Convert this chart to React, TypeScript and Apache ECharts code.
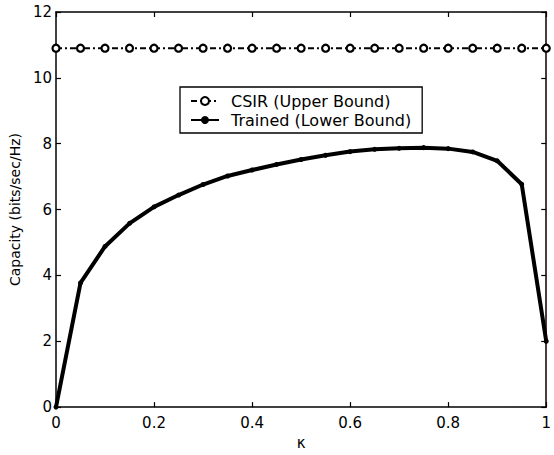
import React, { useEffect, useRef } from "react";
import * as echarts from "echarts";

const kappa = [0, 0.05, 0.1, 0.15, 0.2, 0.25, 0.3, 0.35, 0.4, 0.45, 0.5, 0.55, 0.6, 0.65, 0.7, 0.75, 0.8, 0.85, 0.9, 0.95, 1.0];
const csir = [10.9, 10.9, 10.9, 10.9, 10.9, 10.9, 10.9, 10.9, 10.9, 10.9, 10.9, 10.9, 10.9, 10.9, 10.9, 10.9, 10.9, 10.9, 10.9, 10.9, 10.9];
const trained = [0, 3.77, 4.88, 5.58, 6.08, 6.44, 6.76, 7.02, 7.2, 7.37, 7.52, 7.65, 7.76, 7.83, 7.86, 7.88, 7.85, 7.75, 7.48, 6.77, 2.0];
const xTicks = [0, 0.2, 0.4, 0.6, 0.8, 1];
const yTicks = [0, 2, 4, 6, 8, 10, 12];

const FONT = "DejaVu Sans, Arial, sans-serif";

export default function App() {
  const ref = useRef<HTMLDivElement>(null);
  useEffect(() => {
    const chart = echarts.init(ref.current!, null, { renderer: "svg" });
    const axisLine = { show: true, onZero: false, lineStyle: { color: "#000", width: 1.5 } };
    const tick = { show: true, inside: true, length: 5, lineStyle: { color: "#000", width: 1.2 } };
    chart.setOption({
      animation: false,
      backgroundColor: "#fff",
      textStyle: { fontFamily: FONT },
      grid: { left: 51, right: 2, top: 12, bottom: 40 },
      legend: {
        left: 180,
        top: 87,
        orient: "vertical",
        itemGap: 3,
        itemWidth: 28,
        itemHeight: 10,
        padding: [6, 11, 5, 10],
        borderColor: "#000",
        borderWidth: 1.3,
        backgroundColor: "#fff",
        textStyle: { fontFamily: FONT, fontSize: 16, color: "#000", padding: [0, 0, 0, 7] },
        data: ["CSIR (Upper Bound)", "Trained (Lower Bound)"],
      },
      xAxis: [
        {
          type: "value",
          min: 0,
          max: 1,
          interval: 0.2,
          name: "κ",
          nameLocation: "middle",
          nameGap: 24,
          nameTextStyle: { fontFamily: FONT, fontSize: 15, color: "#000" },
          axisLine,
          axisTick: tick,
          splitLine: { show: false },
          axisLabel: {
            color: "#000",
            fontSize: 15,
            fontFamily: FONT,
            margin: 8,
            formatter: (v: number) => (xTicks.includes(Math.round(v * 10) / 10) ? String(Math.round(v * 10) / 10) : ""),
          },
        },
        {
          type: "value",
          position: "top",
          min: 0,
          max: 1,
          interval: 0.2,
          axisLine,
          axisTick: tick,
          splitLine: { show: false },
          axisLabel: { show: false },
        },
      ],
      yAxis: [
        {
          type: "value",
          min: 0,
          max: 12,
          interval: 2,
          name: "Capacity (bits/sec/Hz)",
          nameLocation: "middle",
          nameGap: 29,
          nameTextStyle: { fontFamily: FONT, fontSize: 14, color: "#000" },
          axisLine,
          axisTick: tick,
          splitLine: { show: false },
          axisLabel: {
            color: "#000",
            fontSize: 15,
            fontFamily: FONT,
            margin: 4,
            formatter: (v: number) => (yTicks.includes(v) ? String(v) : ""),
          },
        },
        {
          type: "value",
          position: "right",
          min: 0,
          max: 12,
          interval: 2,
          axisLine,
          axisTick: tick,
          splitLine: { show: false },
          axisLabel: { show: false },
        },
      ],
      series: [
        {
          name: "CSIR (Upper Bound)",
          type: "line",
          data: kappa.map((k, i) => [k, csir[i]]),
          symbol: "circle",
          symbolSize: 7,
          showAllSymbol: true,
          lineStyle: { color: "#000", width: 2, type: [6, 3, 2, 3] },
          itemStyle: { color: "#fff", borderColor: "#000", borderWidth: 2.2 },
          z: 3,
        },
        {
          name: "Trained (Lower Bound)",
          type: "line",
          data: kappa.map((k, i) => [k, trained[i]]),
          symbol: "circle",
          symbolSize: 5,
          showAllSymbol: true,
          lineStyle: { color: "#000", width: 4 },
          itemStyle: { color: "#000", borderColor: "#000", borderWidth: 0 },
          z: 2,
        },
      ],
    });
    return () => chart.dispose();
  }, []);
  return <div ref={ref} style={{ width: 554, height: 455, position: "absolute", left: 0, top: 0 }} />;
}
